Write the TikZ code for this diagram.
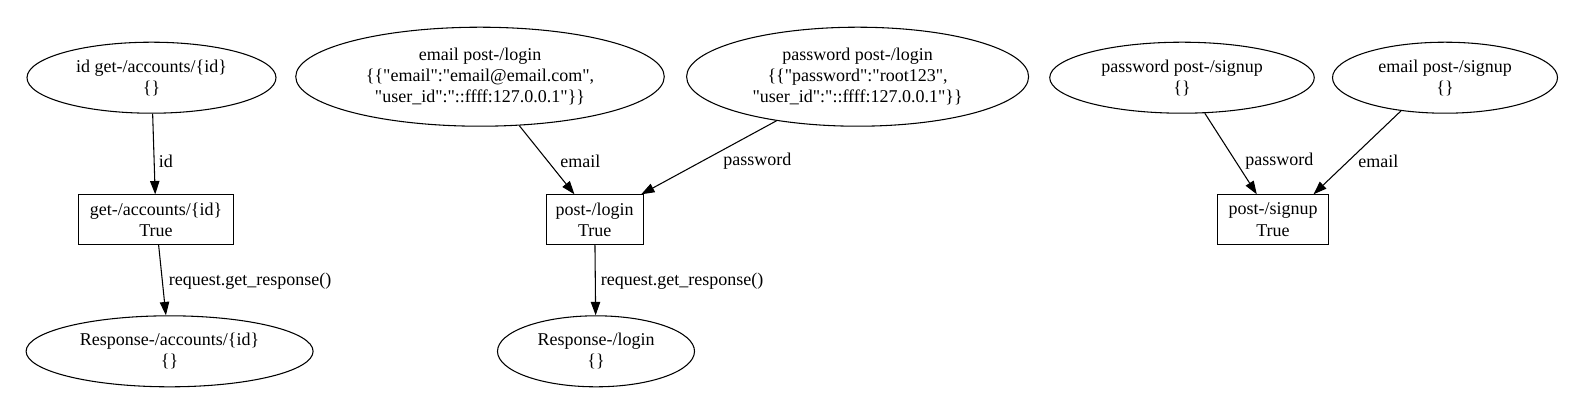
\documentclass[tikz,border=0pt]{standalone}
\usepackage{fontspec}
\setmainfont{Liberation Serif}[Ligatures=TeXOff]
\usetikzlibrary{arrows.meta, positioning, shapes.geometric}

\begin{document}
\begin{tikzpicture}[
  x=0.75pt, y=-0.75pt,
  every node/.style={font=\fontsize{13.5}{15.8}\selectfont},
  dat/.style={draw, line width=0.8pt, ellipse, inner sep=0pt, align=center, minimum height=53.25pt},
  call/.style={draw, line width=0.8pt, rectangle, inner sep=0pt, align=center, minimum height=37.1pt},
  lbl/.style={anchor=west, inner sep=0pt},
  arr/.style={-{Triangle[length=10pt, width=7pt]}, line width=0.8pt}
]
\useasboundingbox (0,0) rectangle (1583,412);

% accounts
\node[dat, minimum width=186.75pt] (idget) at (151.5,77.7) {id get-/accounts/\{id\}\\\{\}};
\node[call, minimum width=115.9pt] (getacc) at (156,219.6) {get-/accounts/\{id\}\\True};
\node[dat, minimum width=215.25pt] (respacc) at (169.6,351.3) {Response-/accounts/\{id\}\\\{\}};

% login
\node[dat, minimum width=276.4pt, minimum height=74.25pt] (emaillogin) at (480,76.7)
  {email post-/login\\\{\{"email":"email@email.com",\\"user\_id":"::ffff:127.0.0.1"\}\}};
\node[dat, minimum width=256.5pt, minimum height=74.25pt] (pwlogin) at (857.6,76.7)
  {password post-/login\\\{\{"password":"root123",\\"user\_id":"::ffff:127.0.0.1"\}\}};
\node[call, minimum width=72.75pt] (login) at (594.7,219.6) {post-/login\\True};
\node[dat, minimum width=147.75pt] (resplogin) at (596,351.3) {Response-/login\\\{\}};

% signup
\node[dat, minimum width=198.4pt] (pwsignup) at (1182,77.7) {password post-/signup\\\{\}};
\node[dat, minimum width=168.75pt] (emailsignup) at (1445,77.7) {email post-/signup\\\{\}};
\node[call, minimum width=83.25pt] (signup) at (1273,219.6) {post-/signup\\True};

\draw[arr] (idget) -- (getacc);
\draw[arr] (getacc) -- (respacc);
\draw[arr] (emaillogin) -- (login);
\draw[arr] (pwlogin) -- (login);
\draw[arr] (login) -- (resplogin);
\draw[arr] (pwsignup) -- (signup);
\draw[arr] (emailsignup.217) -- (signup.32);

% edge labels
\node[lbl] (lid) at (158.5,161.5) {id};
\node[lbl] (lemail) at (560,161.5) {email};
\node[lbl] (lpw) at (723,161.5) {password};
\node[lbl] (lresp) at (168.6,281.5) {request.get\_response()};
\node[lbl] (lresplogin) at (600.7,281.5) {request.get\_response()};
\node[lbl] (lpwsignup) at (1245,161.5) {password};
\node[lbl] (lemailsignup) at (1358,161.5) {email};
\end{tikzpicture}
\end{document}
